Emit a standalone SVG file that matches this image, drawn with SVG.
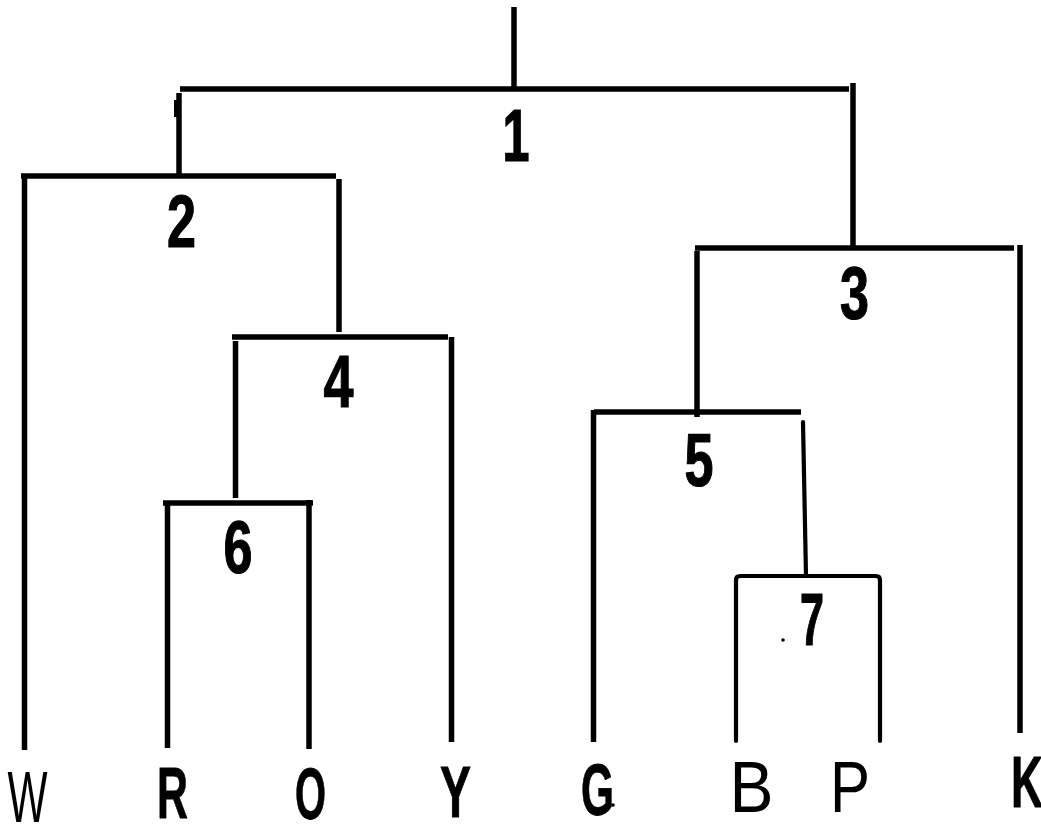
<svg xmlns="http://www.w3.org/2000/svg" width="1041" height="825" viewBox="0 0 1041 825">
<style>
.ln{stroke:#000;stroke-width:5.5;fill:none;stroke-linecap:butt}
.thin{stroke:#000;stroke-width:4.2;fill:none;stroke-linecap:round;stroke-linejoin:round}
.num{font-family:"Liberation Sans Narrow","Liberation Sans",Arial,sans-serif;font-weight:bold;font-size:75px;fill:#000;stroke:#000;stroke-width:1.2;text-anchor:middle}
.lab{font-family:"Liberation Sans Narrow","Liberation Sans",Arial,sans-serif;font-weight:bold;font-size:72px;fill:#000;stroke:#000;stroke-width:0.8;text-anchor:middle}
.labr{font-family:"Liberation Sans","Arial",sans-serif;font-weight:normal;font-size:72px;fill:#000;text-anchor:middle}
</style>
<rect width="1041" height="825" fill="#fff"/>
<g id="connectors">
<line class="ln" x1="514" y1="7" x2="514" y2="89"/>
<line class="ln" x1="180" y1="89" x2="849" y2="89"/>
<line class="ln" x1="853" y1="83" x2="853" y2="248"/>
<line class="ln" x1="179" y1="93" x2="179" y2="176"/>
<line class="ln" x1="21" y1="176" x2="336" y2="176"/>
<line class="ln" x1="24.5" y1="176" x2="24.5" y2="750"/>
<line class="ln" x1="339" y1="179" x2="339" y2="332"/>
<line class="ln" x1="232" y1="337" x2="448" y2="337"/>
<line class="ln" x1="235.5" y1="341" x2="235.5" y2="498"/>
<line class="ln" x1="451.5" y1="337" x2="451.5" y2="742"/>
<line class="ln" x1="163" y1="503" x2="313" y2="503"/>
<line class="ln" x1="167.5" y1="503" x2="167.5" y2="748"/>
<line class="ln" x1="309" y1="500" x2="309" y2="749"/>
<line class="ln" x1="695" y1="248" x2="1014" y2="248"/>
<line class="ln" x1="1020" y1="245" x2="1020" y2="733"/>
<line class="ln" x1="697" y1="251" x2="697" y2="417"/>
<line class="ln" x1="594" y1="412" x2="801" y2="412"/>
<line class="ln" x1="593.5" y1="410" x2="593.5" y2="742"/>
<line class="thin" x1="803" y1="422" x2="806" y2="576"/>
<path class="thin" d="M736,741 V580 Q736,576 740,576 H876 Q880,576 880,580 V741"/>
<rect x="174" y="100" width="3" height="17" fill="#000"/>
</g>
<g id="n1"><text class="num" x="516" y="161" textLength="27" lengthAdjust="spacingAndGlyphs">1</text></g>
<g id="n2"><text class="num" x="181.5" y="247" textLength="29" lengthAdjust="spacingAndGlyphs">2</text></g>
<g id="n3"><text class="num" x="854.5" y="319" textLength="29" lengthAdjust="spacingAndGlyphs">3</text></g>
<g id="n4"><text class="num" x="338.5" y="407" textLength="30" lengthAdjust="spacingAndGlyphs">4</text></g>
<g id="n5"><text class="num" x="699" y="486" textLength="29" lengthAdjust="spacingAndGlyphs">5</text></g>
<g id="n6"><text class="num" x="238" y="573" textLength="29" lengthAdjust="spacingAndGlyphs">6</text></g>
<g id="n7"><text class="num" x="812" y="645" textLength="24" lengthAdjust="spacingAndGlyphs">7</text><circle cx="783" cy="640" r="1.8" fill="#000"/></g>
<g id="leafW"><text class="labr" x="27.5" y="822" textLength="40" lengthAdjust="spacingAndGlyphs">W</text></g>
<g id="leafR"><text class="lab" x="172.5" y="818" textLength="31" lengthAdjust="spacingAndGlyphs">R</text></g>
<g id="leafO"><text class="lab" x="310.5" y="819" textLength="31" lengthAdjust="spacingAndGlyphs">O</text></g>
<g id="leafY"><text class="lab" x="455.5" y="817" textLength="31" lengthAdjust="spacingAndGlyphs">Y</text></g>
<g id="leafG"><text class="lab" x="597.5" y="815" textLength="33" lengthAdjust="spacingAndGlyphs">G</text><circle cx="613" cy="805" r="1.8" fill="#000"/></g>
<g id="leafB"><text class="labr" x="751.5" y="812" textLength="44" lengthAdjust="spacingAndGlyphs">B</text></g>
<g id="leafP"><text class="labr" x="850" y="812" textLength="40" lengthAdjust="spacingAndGlyphs">P</text></g>
<g id="leafK"><text class="lab" x="1027" y="807" textLength="32" lengthAdjust="spacingAndGlyphs">K</text></g>
</svg>
